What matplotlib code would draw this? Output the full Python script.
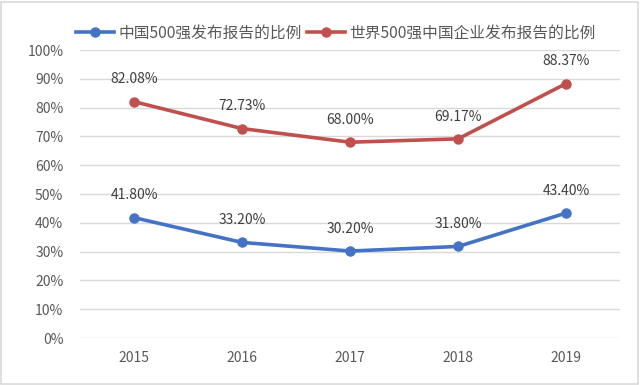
import numpy as np
import matplotlib.pyplot as plt
from matplotlib.patches import Rectangle

plt.rcParams['font.family'] = ['Noto Sans CJK SC', 'DejaVu Sans']

years = ['2015', '2016', '2017', '2018', '2019']
china500 = [41.80, 33.20, 30.20, 31.80, 43.40]
world500 = [82.08, 72.73, 68.00, 69.17, 88.37]
names = ['中国500强发布报告的比例', '世界500强中国企业发布报告的比例']
colors = ['#4472C4', '#C0504D']

fig = plt.figure(figsize=(6.4, 3.85), dpi=100)
ax = fig.add_axes([0.125, 0.122, 0.844, 0.748])
x = np.arange(len(years))

for vals, name, c in zip([china500, world500], names, colors):
    ax.plot(x, vals, color=c, lw=2.6, marker='o', ms=6.5, label=name, zorder=3)
    for xi, v in zip(x, vals):
        ax.annotate('%.2f%%' % v, (xi, v), xytext=(0, 16), textcoords='offset points',
                    ha='center', va='center', fontsize=10, color='#404040')

ax.set_xlim(-0.5, len(years) - 0.5)
ax.set_ylim(0, 100)
ax.set_yticks(np.arange(0, 101, 10))
ax.set_yticklabels(['%d%%' % t for t in range(0, 101, 10)])
ax.set_xticks(x)
ax.set_xticklabels(years)
ax.tick_params(length=0, labelsize=10, colors='#595959')
ax.tick_params(axis='x', pad=9)
ax.tick_params(axis='y', pad=12)
ax.grid(axis='y', color='#D9D9D9', lw=1)
ax.set_axisbelow(True)
for s in ax.spines.values():
    s.set_visible(False)

fig.legend(loc='center', bbox_to_anchor=(0.525, 0.915), ncol=2, frameon=False,
           fontsize=11.3, handlelength=2.4, columnspacing=0.3, handletextpad=0.3,
           labelcolor='#595959')

fig.patches.append(Rectangle((0.002, 0.003), 0.995, 0.993, transform=fig.transFigure,
                             fill=False, ec='#D9D9D9', lw=1.2))

fig.savefig('out.png', dpi=100)
